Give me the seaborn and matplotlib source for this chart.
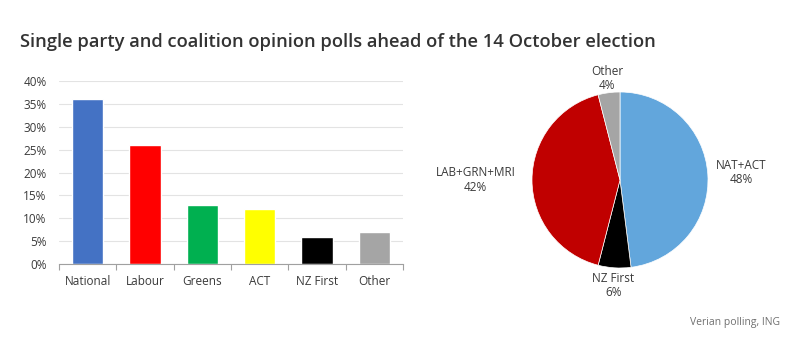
import numpy as np
import pandas as pd
import matplotlib
matplotlib.use("Agg")
import matplotlib.pyplot as plt
import seaborn as sns
from matplotlib.ticker import PercentFormatter, FixedLocator

parties = ["National", "Labour", "Greens", "ACT", "NZ First", "Other"]
party_values = [36, 26, 13, 12, 6, 7]
party_colors = ["#4472C4", "#FF0000", "#00B050", "#FFFF00", "#000000", "#A5A5A5"]

blocs = ["NAT+ACT", "NZ First", "LAB+GRN+MRI", "Other"]
bloc_values = [48, 6, 42, 4]
bloc_colors = ["#62A6DC", "#000000", "#C00000", "#A5A5A5"]

y_ticks = [0, 5, 10, 15, 20, 25, 30, 35, 40]

title = "Single party and coalition opinion polls ahead of the 14 October election"
source = "Verian polling, ING"

sns.set_theme(style="white")
plt.rcParams["font.family"] = ["Open Sans", "DejaVu Sans"]

fig = plt.figure(figsize=(7.9, 3.55), dpi=100)
fig.patch.set_facecolor("white")

# Bar chart
ax = fig.add_axes([59 / 790, 1 - 264 / 355, 344 / 790, 183 / 355])
df = pd.DataFrame({"party": parties, "value": party_values})
sns.barplot(data=df, x="party", y="value", hue="party",
            palette=dict(zip(parties, party_colors)), width=0.55,
            legend=False, ax=ax, saturation=1)
ax.set_ylim(0, 40)
ax.set_xlim(-0.5, len(parties) - 0.5)
ax.yaxis.set_major_locator(FixedLocator(y_ticks))
ax.yaxis.set_major_formatter(PercentFormatter(decimals=0))
ax.grid(axis="y", color="#E3E3E3", linewidth=0.8)
ax.set_axisbelow(True)
for s in ["top", "right", "left"]:
    ax.spines[s].set_visible(False)
ax.spines["bottom"].set_color("#A0A0A0")
ax.spines["bottom"].set_linewidth(0.8)
ax.set_xlabel("")
ax.set_ylabel("")
ax.tick_params(axis="y", length=0, labelsize=8.5, labelcolor="#3A3A3A", pad=9)
ax.tick_params(axis="x", which="major", length=0, labelsize=8.5, labelcolor="#3A3A3A", pad=8)
ax.set_xticks(np.arange(-0.5, len(parties), 1.0), minor=True)
ax.tick_params(axis="x", which="minor", length=4, color="#A0A0A0", width=0.8, bottom=True)

# Pie chart
r_px = 88
pax = fig.add_axes([(620 - r_px) / 790, 1 - (180 + r_px) / 355, 2 * r_px / 790, 2 * r_px / 355])
wedges, _ = pax.pie(bloc_values, colors=bloc_colors, startangle=90, counterclock=False,
                    wedgeprops=dict(edgecolor="white", linewidth=0.5))
pax.set_xlim(-1, 1)
pax.set_ylim(-1, 1)
pax.set_aspect("auto")
pax.axis("off")
label_dist = [1.38, 1.2, 1.64, 1.16]
for w, name, val, d in zip(wedges, blocs, bloc_values, label_dist):
    ang = np.deg2rad((w.theta1 + w.theta2) / 2)
    pax.text(d * np.cos(ang), d * np.sin(ang), f"{name}\n{val}%", ha="center", va="center",
             fontsize=8.5, color="#3A3A3A", linespacing=1.15, clip_on=False)

fig.text(20 / 790, 1 - 42 / 355, title, fontsize=13.25, fontweight="semibold",
         color="#333333", va="center", ha="left")
fig.text(780 / 790, 1 - 323 / 355, source, fontsize=7.5, color="#707070",
         va="center", ha="right")

fig.savefig("out.png", dpi=100, facecolor="white")
